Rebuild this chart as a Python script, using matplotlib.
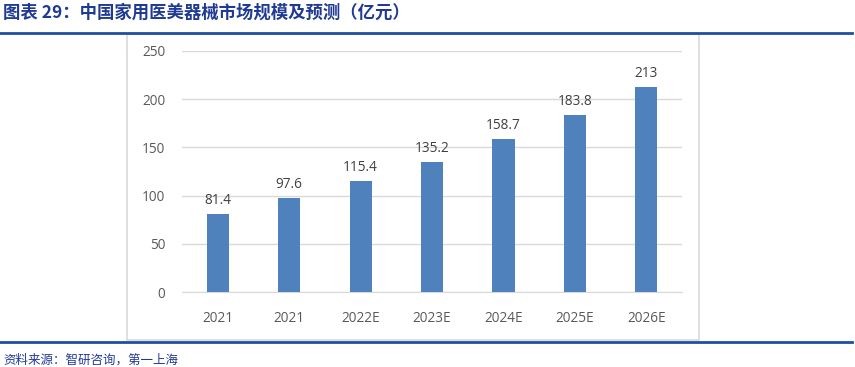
import matplotlib
matplotlib.use("Agg")
import matplotlib.pyplot as plt
from matplotlib.lines import Line2D
from matplotlib.patches import Rectangle

plt.rcParams['font.family'] = ['Noto Sans CJK SC', 'DejaVu Sans']

categories = ["2021", "2021", "2022E", "2023E", "2024E", "2025E", "2026E"]
values = [81.4, 97.6, 115.4, 135.2, 158.7, 183.8, 213]
labels = ["81.4", "97.6", "115.4", "135.2", "158.7", "183.8", "213"]
yticks = [0, 50, 100, 150, 200, 250]

W, H = 855, 367
fig = plt.figure(figsize=(W / 100, H / 100), dpi=100)

def fx(px):
    return px / W

def fy(py):
    return 1 - py / H

# chart frame box
fig.add_artist(Rectangle((fx(127), fy(340)), fx(699) - fx(127), fy(34) - fy(340),
                         transform=fig.transFigure, fill=False, edgecolor='#D9D9D9', linewidth=1.2))
# blue rules
fig.add_artist(Line2D([0, fx(852)], [fy(33), fy(33)], transform=fig.transFigure, color='#1F4FA0', linewidth=2))
fig.add_artist(Line2D([0, fx(852)], [fy(342), fy(342)], transform=fig.transFigure, color='#1F4FA0', linewidth=2))

ax = fig.add_axes([fx(182), fy(292), fx(682) - fx(182), fy(51) - fy(292)])
x = list(range(len(categories)))
bars = ax.bar(x, values, width=0.31, color='#4F81BD', zorder=3)
for xi, v, lab in zip(x, values, labels):
    ax.text(xi, v + 6, lab, ha='center', va='bottom', fontsize=9.8, color='#404040',
            family=['Open Sans', 'DejaVu Sans'])

ax.set_xlim(-0.5, len(categories) - 0.5)
ax.set_ylim(0, 250)
ax.set_yticks(yticks)
ax.set_xticks(x)
ax.set_xticklabels(categories)
ax.grid(axis='y', color='#D9D9D9', linewidth=1, zorder=0)
for s in ['top', 'right', 'left']:
    ax.spines[s].set_visible(False)
ax.spines['bottom'].set_color('#D9D9D9')
ax.tick_params(axis='both', length=0, labelsize=9.8, labelcolor='#595959')
for t in ax.get_xticklabels() + ax.get_yticklabels():
    t.set_family(['Open Sans', 'DejaVu Sans'])
ax.tick_params(axis='y', pad=12)
ax.tick_params(axis='x', pad=14)

fig.text(fx(3), fy(13), "图表 29：中国家用医美器械市场规模及预测（亿元）", fontsize=12.5, fontweight='bold',
         color='#1F3A93', ha='left', va='center')
fig.text(fx(3), fy(360), "资料来源：智研咨询，第一上海", fontsize=9, color='#1F3A93', ha='left', va='center')

fig.savefig("out.png", dpi=100)
